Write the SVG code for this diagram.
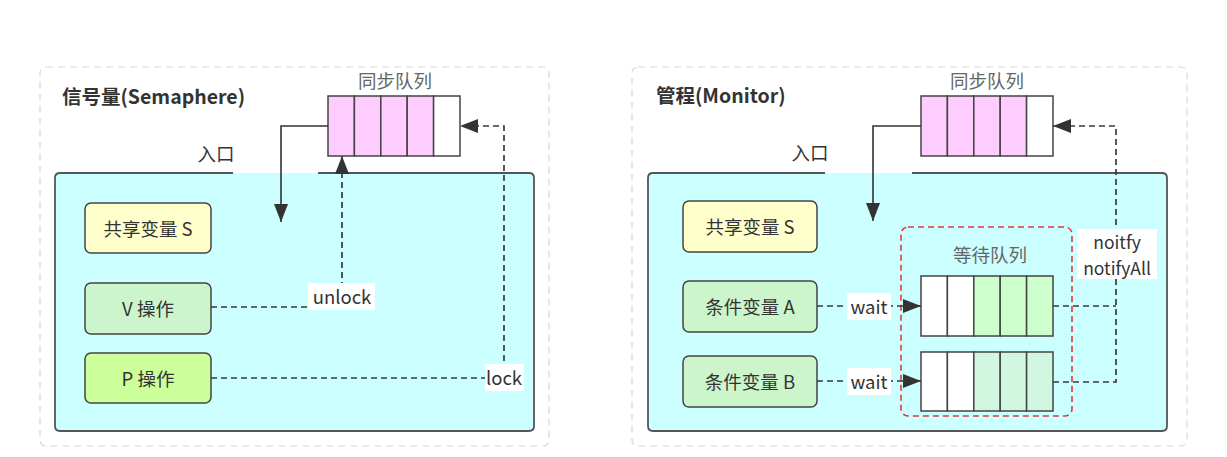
<svg xmlns="http://www.w3.org/2000/svg" width="1227" height="457" viewBox="0 0 1227 457">
<defs>
<style>
text{font-family:"Noto Sans CJK SC","Noto Sans",sans-serif;fill:#333}
.outer{fill:#fff;stroke:#d8d8d8;stroke-width:1.2;stroke-dasharray:7 5}
.title{font-size:19.5px;font-weight:bold}
.inner{fill:#ccffff;stroke:none}
.border{fill:none;stroke:#555;stroke-width:1.8}
.node{stroke:#444;stroke-width:1.5}
.lbl{font-size:18.5px;text-anchor:middle;dominant-baseline:central}
.cl{font-size:18.5px;text-anchor:middle;dominant-baseline:central}
.ql{font-size:17.5px;text-anchor:middle;dominant-baseline:central}
.qt{font-size:18.5px;text-anchor:middle;fill:#666}
.cell{stroke:#444;stroke-width:1.5}
.solid{fill:none;stroke:#333;stroke-width:1.6}
.dash{fill:none;stroke:#3a3a3a;stroke-width:1.7;stroke-dasharray:6 4}
.bg{fill:#fff}
</style>
<marker id="ah" viewBox="0 0 18 14" refX="18" refY="7" markerWidth="18" markerHeight="14" markerUnits="userSpaceOnUse" orient="auto">
<path d="M0,0 L18,7 L0,14 Z" fill="#333" stroke="none"/>
</marker>
</defs>
<rect width="1227" height="457" fill="#fff"/>

<g id="semaphore-panel">
<rect class="outer" x="40" y="67" width="509" height="379" rx="6"/>
<text class="title" x="62" y="104">信号量(Semaphere)</text>
<rect class="inner" x="55" y="173" width="479" height="258" rx="5"/>
<path class="border" d="M233,173 H60 Q55,173 55,178 V426 Q55,431 60,431 H529 Q534,431 534,426 V178 Q534,173 529,173 H318"/>
<text class="lbl" x="216" y="153">入口</text>
</g>

<g id="sem-sync-queue">
<text class="qt" x="395" y="88">同步队列</text>
<rect class="cell" x="328" y="96" width="26.4" height="60" fill="#ffccff"/>
<rect class="cell" x="354.4" y="96" width="26.4" height="60" fill="#ffccff"/>
<rect class="cell" x="380.8" y="96" width="26.4" height="60" fill="#ffccff"/>
<rect class="cell" x="407.2" y="96" width="26.4" height="60" fill="#ffccff"/>
<rect class="cell" x="433.6" y="96" width="26.4" height="60" fill="#fff"/>
</g>

<g id="sem-shared">
<rect class="node" x="85" y="203" width="126" height="50" rx="6" fill="#ffffcc"/>
<text class="lbl" x="148" y="228">共享变量 S</text>
</g>
<g id="sem-v">
<rect class="node" x="85" y="283" width="126" height="51" rx="6" fill="#ccf5cc"/>
<text class="lbl" x="148" y="308">V 操作</text>
</g>
<g id="sem-p">
<rect class="node" x="85" y="353" width="126" height="50" rx="6" fill="#ccff99"/>
<text class="lbl" x="148" y="378">P 操作</text>
</g>

<g id="monitor-panel">
<rect class="outer" x="632" y="67" width="555" height="379" rx="6"/>
<text class="title" x="656" y="103">管程(Monitor)</text>
<rect class="inner" x="648" y="173" width="519" height="258" rx="5"/>
<path class="border" d="M825,173 H653 Q648,173 648,178 V426 Q648,431 653,431 H1162 Q1167,431 1167,426 V178 Q1167,173 1162,173 H912"/>
<text class="lbl" x="810" y="152">入口</text>
</g>

<g id="mon-sync-queue">
<text class="qt" x="987" y="88">同步队列</text>
<rect class="cell" x="921" y="96" width="26.4" height="60" fill="#ffccff"/>
<rect class="cell" x="947.4" y="96" width="26.4" height="60" fill="#ffccff"/>
<rect class="cell" x="973.8" y="96" width="26.4" height="60" fill="#ffccff"/>
<rect class="cell" x="1000.2" y="96" width="26.4" height="60" fill="#ffccff"/>
<rect class="cell" x="1026.6" y="96" width="26.4" height="60" fill="#fff"/>
</g>

<g id="mon-shared">
<rect class="node" x="683" y="201" width="134" height="51" rx="6" fill="#ffffcc"/>
<text class="lbl" x="750" y="226">共享变量 S</text>
</g>
<g id="mon-cond-a">
<rect class="node" x="683" y="281" width="134" height="51" rx="6" fill="#ccf5cc"/>
<text class="lbl" x="750" y="306">条件变量 A</text>
</g>
<g id="mon-cond-b">
<rect class="node" x="683" y="356" width="134" height="51" rx="6" fill="#ccf5cc"/>
<text class="lbl" x="750" y="381">条件变量 B</text>
</g>

<g id="wait-queues">
<rect x="901" y="227" width="171" height="189" rx="7" fill="none" stroke="#e03a3a" stroke-width="1.6" stroke-dasharray="6 4"/>
<text class="qt" x="990" y="262">等待队列</text>
<rect class="cell" x="921" y="276" width="26.4" height="60" fill="#fff"/>
<rect class="cell" x="947.4" y="276" width="26.4" height="60" fill="#fff"/>
<rect class="cell" x="973.8" y="276" width="26.4" height="60" fill="#ccffcc"/>
<rect class="cell" x="1000.2" y="276" width="26.4" height="60" fill="#ccffcc"/>
<rect class="cell" x="1026.6" y="276" width="26.4" height="60" fill="#ccffcc"/>
<rect class="cell" x="921" y="352" width="26.4" height="59" fill="#fff"/>
<rect class="cell" x="947.4" y="352" width="26.4" height="59" fill="#fff"/>
<rect class="cell" x="973.8" y="352" width="26.4" height="59" fill="#d2f7e0"/>
<rect class="cell" x="1000.2" y="352" width="26.4" height="59" fill="#d2f7e0"/>
<rect class="cell" x="1026.6" y="352" width="26.4" height="59" fill="#d2f7e0"/>
</g>

<g id="connectors">
<path class="solid" d="M328,126 H281 V222" marker-end="url(#ah)"/>
<path class="dash" d="M211,307 H342 V156" marker-end="url(#ah)"/>
<path class="dash" d="M211,378 H504 V126 H460" marker-end="url(#ah)"/>
<rect class="bg" x="308" y="283" width="67" height="27"/>
<text class="cl" x="342" y="296">unlock</text>
<rect class="bg" x="485" y="364" width="39" height="27"/>
<text class="cl" x="504" y="377">lock</text>

<path class="solid" d="M921,126 H873 V221" marker-end="url(#ah)"/>
<path class="dash" d="M817,306 H921" marker-end="url(#ah)"/>
<path class="dash" d="M817,381 H921" marker-end="url(#ah)"/>
<path class="dash" d="M1053,306 H1116"/>
<path class="dash" d="M1053,382 H1116 V126 H1053" marker-end="url(#ah)"/>
<rect class="bg" x="847" y="293" width="44" height="27"/>
<text class="cl" x="869" y="306">wait</text>
<rect class="bg" x="847" y="368" width="44" height="27"/>
<text class="cl" x="869" y="381">wait</text>
<rect class="bg" x="1077" y="229" width="80" height="50"/>
<text class="ql" x="1117" y="241">noitfy</text>
<text class="ql" x="1117" y="267">notifyAll</text>
</g>
</svg>
